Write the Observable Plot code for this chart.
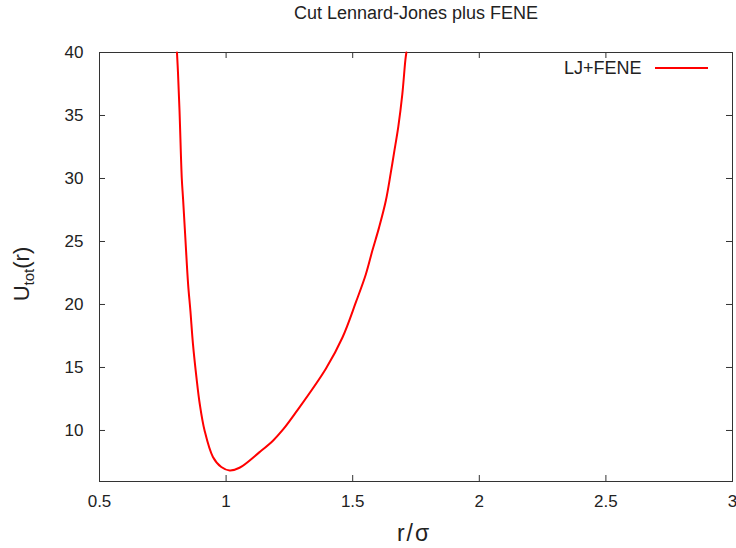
<!DOCTYPE html>
<html>
<head>
<meta charset="utf-8">
<script src="https://cdn.jsdelivr.net/npm/d3@7"></script>
<script src="https://cdn.jsdelivr.net/npm/@observablehq/plot@0.6"></script>
<style>
  html, body { margin: 0; padding: 0; background: #fff; }
  #chart svg { display: block; }
</style>
</head>
<body>
<div id="chart"></div>
<script>
// r/sigma values
const r = [0.806, 0.810, 0.816, 0.825, 0.830, 0.839, 0.850, 0.859, 0.869, 0.883, 0.896, 0.915, 0.948, 0.981, 1.014, 1.053, 1.132, 1.186, 1.226, 1.276, 1.394, 1.460, 1.513, 1.552, 1.578, 1.604, 1.631, 1.650, 1.663, 1.680, 1.696, 1.708, 1.712];
// U_tot(r) values
const U = [40.0, 38.4, 35.4, 30.0, 28.4, 25.3, 21.6, 19.5, 16.9, 14.2, 12.1, 10.0, 7.9, 7.1, 6.83, 7.04, 8.28, 9.21, 10.1, 11.45, 14.9, 17.4, 20.2, 22.4, 24.3, 26.1, 28.25, 30.4, 32.0, 34.1, 36.7, 39.4, 40.0];
const xTicks = [0.5, 1, 1.5, 2, 2.5, 3];
const xTickLabels = ["0.5", "1", "1.5", "2", "2.5", "3"];
const yTicks = [10, 15, 20, 25, 30, 35, 40];
const title = "Cut Lennard-Jones plus FENE";
const seriesName = "LJ+FENE";

const data = r.map((v, i) => ({r: v, U: U[i]}));

const W = 736, H = 548;
const mL = 99, mR = 4, mT = 52, mB = 67;
const pw = W - mL - mR, ph = H - mT - mB;
const tick = 6;
const font = "'Liberation Sans', Arial, sans-serif";

const plot = Plot.plot({
  width: W, height: H,
  marginLeft: mL, marginRight: mR, marginTop: mT, marginBottom: mB,
  style: {fontFamily: font, fontSize: "17px", color: "#222", background: "#fff", overflow: "visible"},
  x: {domain: [0.5, 3], label: null},
  y: {domain: [5.95, 40], label: null},
  marks: [
    Plot.axisX(xTicks, {tickSize: 0, tickPadding: 13, tickFormat: (d, i) => xTickLabels[i], label: null, fontSize: 17}),
    Plot.axisY(yTicks, {tickSize: 0, tickPadding: 16, label: null, fontSize: 17}),
    // inward ticks on all four sides
    Plot.ruleX(xTicks, {stroke: "#333", insetTop: ph - tick}),
    Plot.ruleX(xTicks, {stroke: "#333", insetBottom: ph - tick}),
    Plot.ruleY(yTicks, {stroke: "#333", insetRight: pw - tick}),
    Plot.ruleY(yTicks, {stroke: "#333", insetLeft: pw - tick}),
    Plot.frame({stroke: "#333", strokeWidth: 1}),
    Plot.line(data, {x: "r", y: "U", stroke: "#ff0000", strokeWidth: 2, curve: "catmull-rom"}),
    Plot.text([title], {frameAnchor: "top", dy: -39.5, fontSize: 18, fill: "#222", lineAnchor: "middle"}),
    Plot.text([seriesName], {frameAnchor: "top-right", dx: -(W - mR - 641), dy: 15.5, textAnchor: "end", lineAnchor: "middle", fontSize: 18, fill: "#222"})
  ]
});

document.getElementById("chart").appendChild(plot);

const svg = d3.select(plot);
// legend sample line
svg.append("line")
  .attr("x1", 655).attr("x2", 708).attr("y1", 68).attr("y2", 68)
  .attr("stroke", "#ff0000").attr("stroke-width", 2);

// x-axis label
svg.append("text")
  .attr("x", 414).attr("y", 541)
  .attr("text-anchor", "middle")
  .attr("fill", "#222")
  .attr("font-family", font)
  .attr("font-size", 23)
  .attr("letter-spacing", 2)
  .text("r/σ");

// y-axis label with subscript
const yl = svg.append("text")
  .attr("transform", "translate(29,274) rotate(-90)")
  .attr("text-anchor", "middle")
  .attr("fill", "#222")
  .attr("font-family", font)
  .attr("font-size", 22);
yl.append("tspan").text("U");
yl.append("tspan").attr("font-size", 15).attr("dy", 5).text("tot");
yl.append("tspan").attr("dy", -5).text("(r)");
</script>
</body>
</html>
